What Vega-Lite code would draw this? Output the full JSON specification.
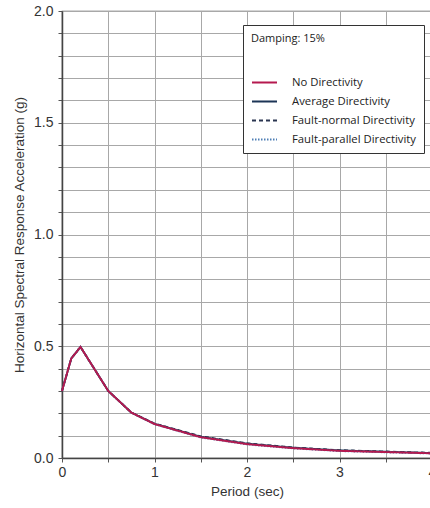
{
  "$schema": "https://vega.github.io/schema/vega-lite/v6.json",
  "autosize": "none",
  "width": 370,
  "height": 447,
  "padding": {"left": 62, "top": 11, "right": 0, "bottom": 50},
  "background": "white",
  "config": {
    "view": {"stroke": "#555", "strokeWidth": 1.2},
    "axis": {"labelFont": "Liberation Sans", "titleFont": "Liberation Sans", "labelColor": "#333", "titleColor": "#333", "labelFontSize": 14, "titleFontSize": 13.5, "titleFontWeight": "normal", "grid": true, "gridColor": "#a8a8a8", "gridWidth": 1, "gridOpacity": 1, "domainColor": "#444", "domainWidth": 1.5, "tickColor": "#555"}
  },
  "data": {"values": [
    {"s": "No Directivity", "t": 0, "v": 0.300},
    {"s": "No Directivity", "t": 0.1, "v": 0.445},
    {"s": "No Directivity", "t": 0.2, "v": 0.497},
    {"s": "No Directivity", "t": 0.5, "v": 0.300},
    {"s": "No Directivity", "t": 0.75, "v": 0.203},
    {"s": "No Directivity", "t": 1.0, "v": 0.152},
    {"s": "No Directivity", "t": 1.5, "v": 0.093},
    {"s": "No Directivity", "t": 2.0, "v": 0.062},
    {"s": "No Directivity", "t": 2.5, "v": 0.044},
    {"s": "No Directivity", "t": 3.0, "v": 0.032},
    {"s": "No Directivity", "t": 4.0, "v": 0.021},
    {"s": "Average Directivity", "t": 0, "v": 0.300},
    {"s": "Average Directivity", "t": 0.1, "v": 0.445},
    {"s": "Average Directivity", "t": 0.2, "v": 0.497},
    {"s": "Average Directivity", "t": 0.5, "v": 0.300},
    {"s": "Average Directivity", "t": 0.75, "v": 0.203},
    {"s": "Average Directivity", "t": 1.0, "v": 0.153},
    {"s": "Average Directivity", "t": 1.5, "v": 0.095},
    {"s": "Average Directivity", "t": 2.0, "v": 0.064},
    {"s": "Average Directivity", "t": 2.5, "v": 0.046},
    {"s": "Average Directivity", "t": 3.0, "v": 0.034},
    {"s": "Average Directivity", "t": 4.0, "v": 0.022},
    {"s": "Fault-normal Directivity", "t": 0, "v": 0.300},
    {"s": "Fault-normal Directivity", "t": 0.1, "v": 0.445},
    {"s": "Fault-normal Directivity", "t": 0.2, "v": 0.497},
    {"s": "Fault-normal Directivity", "t": 0.5, "v": 0.300},
    {"s": "Fault-normal Directivity", "t": 0.75, "v": 0.204},
    {"s": "Fault-normal Directivity", "t": 1.0, "v": 0.154},
    {"s": "Fault-normal Directivity", "t": 1.5, "v": 0.097},
    {"s": "Fault-normal Directivity", "t": 2.0, "v": 0.066},
    {"s": "Fault-normal Directivity", "t": 2.5, "v": 0.047},
    {"s": "Fault-normal Directivity", "t": 3.0, "v": 0.035},
    {"s": "Fault-normal Directivity", "t": 4.0, "v": 0.023},
    {"s": "Fault-parallel Directivity", "t": 0, "v": 0.300},
    {"s": "Fault-parallel Directivity", "t": 0.1, "v": 0.445},
    {"s": "Fault-parallel Directivity", "t": 0.2, "v": 0.497},
    {"s": "Fault-parallel Directivity", "t": 0.5, "v": 0.300},
    {"s": "Fault-parallel Directivity", "t": 0.75, "v": 0.203},
    {"s": "Fault-parallel Directivity", "t": 1.0, "v": 0.151},
    {"s": "Fault-parallel Directivity", "t": 1.5, "v": 0.092},
    {"s": "Fault-parallel Directivity", "t": 2.0, "v": 0.061},
    {"s": "Fault-parallel Directivity", "t": 2.5, "v": 0.043},
    {"s": "Fault-parallel Directivity", "t": 3.0, "v": 0.031},
    {"s": "Fault-parallel Directivity", "t": 4.0, "v": 0.020}
  ]},
  "encoding": {
    "x": {"field": "t", "type": "quantitative", "scale": {"domain": [0, 4], "nice": false},
      "axis": {"title": "Period (sec)", "grid": true, "values": [0, 0.5, 1, 1.5, 2, 2.5, 3, 3.5, 4],
        "labelExpr": "datum.value % 1 == 0 ? format(datum.value, 'd') : ''",
        "tickSize": 4, "labelPadding": 3, "titlePadding": 5, "labelOverlap": false, "labelFlush": false}},
    "y": {"field": "v", "type": "quantitative", "scale": {"domain": [0, 2], "nice": false},
      "axis": {"title": "Horizontal Spectral Response Acceleration (g)", "grid": true,
        "values": [0, 0.1, 0.2, 0.3, 0.4, 0.5, 0.6, 0.7, 0.8, 0.9, 1.0, 1.1, 1.2, 1.3, 1.4, 1.5, 1.6, 1.7, 1.8, 1.9, 2.0],
        "labelExpr": "abs(datum.value * 2 - round(datum.value * 2)) < 0.001 ? format(datum.value, '.1f') : ''",
        "tickSize": 4, "labelPadding": 5, "titlePadding": 7, "labelOverlap": false, "labelFlush": false}},
    "color": {"field": "s", "type": "nominal",
      "scale": {"domain": ["No Directivity", "Average Directivity", "Fault-normal Directivity", "Fault-parallel Directivity"],
        "range": ["#b5194f", "#1c3556", "#2a3550", "#4f7fb5"]},
      "legend": {"title": "Damping: 15%", "orient": "none", "legendX": 181, "legendY": 14,
        "direction": "vertical", "strokeColor": "#333", "fillColor": "white", "padding": 8,
        "titleFont": "Open Sans", "titleFontSize": 11, "titleFontWeight": "normal", "titleColor": "#222", "titlePadding": 25,
        "labelFont": "Open Sans", "labelFontSize": 11.3, "labelColor": "#222", "labelOffset": 14, "labelLimit": 300,
        "symbolType": "stroke", "symbolSize": 625, "symbolStrokeWidth": 1.8, "rowPadding": -2}},
    "strokeDash": {"field": "s", "type": "nominal",
      "scale": {"domain": ["No Directivity", "Average Directivity", "Fault-normal Directivity", "Fault-parallel Directivity"],
        "range": [[1, 0], [1, 0], [4, 3], [1.5, 1.5]]}}
  },
  "layer": [
    {"transform": [{"filter": "datum.s != 'No Directivity'"}], "mark": {"type": "line", "strokeWidth": 1.9}},
    {"transform": [{"filter": "datum.s == 'No Directivity'"}], "mark": {"type": "line", "strokeWidth": 1.9}}
  ]
}
